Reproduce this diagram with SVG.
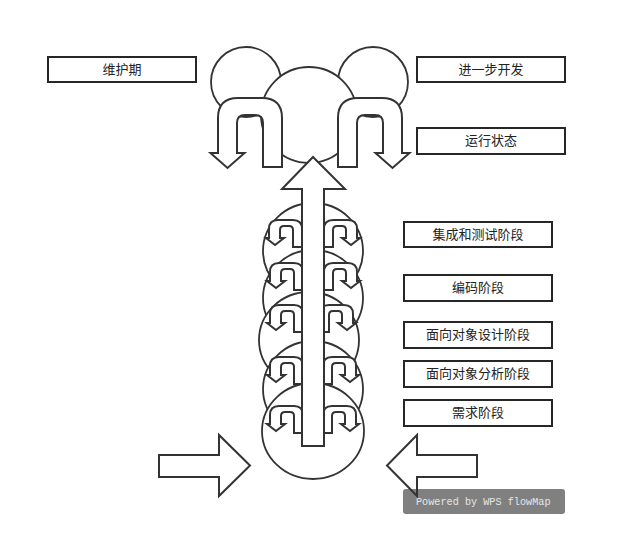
<svg xmlns="http://www.w3.org/2000/svg" width="627" height="558" viewBox="0 0 627 558">
<defs>
<style>
.sh{fill:#fff;stroke:#333;stroke-width:2;stroke-linejoin:miter}
.ci{fill:#fff;stroke:#333;stroke-width:1.8}
.bx{fill:#fff;stroke:#262626;stroke-width:2}
.lb{font-family:"Noto Sans CJK SC","Noto Sans",sans-serif;font-size:13px;fill:#222;text-anchor:middle}
.wm{font-family:"Liberation Mono",monospace;font-size:10.2px;fill:#e6e6e6}
</style>
<path id="bigU" d="M64 69V20Q64 0 44 0H20Q0 0 0 20V55H-7.5L9.5 70L26.5 55H19V25Q19 17 27 17H37Q45 17 45 25V69Z"/>
<path id="smU" d="M33 27V9Q33 0 24 0H9Q0 0 0 9V18H-3L6 25L15 18H11V10Q11 6 15 6H20Q24 6 24 10V27Z"/>
</defs>
<rect width="627" height="558" fill="#fff"/>

<g id="top-figure">
<circle class="ci" cx="246" cy="82" r="35"/>
<circle class="ci" cx="373" cy="82" r="35"/>
<ellipse class="ci" cx="309" cy="115" rx="48" ry="48"/>
<use href="#bigU" class="sh" transform="translate(218,98)"/>
<use href="#bigU" class="sh" transform="translate(402,98) scale(-1,1)"/>
</g>

<g id="stack">
<ellipse class="ci" cx="313" cy="251" rx="50" ry="48"/>
<ellipse class="ci" cx="313" cy="298" rx="50" ry="48"/>
<ellipse class="ci" cx="309" cy="340" rx="50" ry="48"/>
<ellipse class="ci" cx="313" cy="389" rx="50" ry="48"/>
<ellipse class="ci" cx="313" cy="431" rx="51" ry="48"/>
<use href="#smU" class="sh" transform="translate(269,220)"/>
<use href="#smU" class="sh" transform="translate(357,220) scale(-1,1)"/>
<use href="#smU" class="sh" transform="translate(270,263)"/>
<use href="#smU" class="sh" transform="translate(357,263) scale(-1,1)"/>
<use href="#smU" class="sh" transform="translate(270,305)"/>
<use href="#smU" class="sh" transform="translate(353,305) scale(-1,1)"/>
<use href="#smU" class="sh" transform="translate(270,357)"/>
<use href="#smU" class="sh" transform="translate(356,357) scale(-1,1)"/>
<use href="#smU" class="sh" transform="translate(270,406)"/>
<use href="#smU" class="sh" transform="translate(356,406) scale(-1,1)"/>
</g>

<g id="main-arrow">
<path class="sh" d="M313 157L345 189H324V446H302V189H282Z"/>
</g>

<g id="watermark">
<rect x="403" y="489" width="162" height="25" rx="3" fill="#808080"/>
<text class="wm" x="416" y="505">Powered by WPS flowMap</text>
</g>

<g id="side-arrows">
<path class="sh" style="fill:none" d="M159 455H219V435L250 465.5L219 496V477H159Z"/>
<path class="sh" style="fill:none" d="M477 455H417V435L387 465.5L417 496V477H477Z"/>
</g>

<g id="n-weihuqi"><rect class="bx" x="48" y="57" width="148" height="25"/><text class="lb" x="122" y="74">维护期</text></g>
<g id="n-jinyibu"><rect class="bx" x="417" y="57" width="148" height="25"/><text class="lb" x="491" y="74">进一步开发</text></g>
<g id="n-yunxing"><rect class="bx" x="417" y="128" width="148" height="26"/><text class="lb" x="491" y="145">运行状态</text></g>
<g id="n-jicheng"><rect class="bx" x="404" y="222" width="148" height="25"/><text class="lb" x="478" y="239">集成和测试阶段</text></g>
<g id="n-bianma"><rect class="bx" x="404" y="275" width="148" height="26"/><text class="lb" x="478" y="292">编码阶段</text></g>
<g id="n-sheji"><rect class="bx" x="404" y="322" width="148" height="26"/><text class="lb" x="478" y="339">面向对象设计阶段</text></g>
<g id="n-fenxi"><rect class="bx" x="404" y="361" width="148" height="26"/><text class="lb" x="478" y="378">面向对象分析阶段</text></g>
<g id="n-xuqiu"><rect class="bx" x="404" y="400" width="148" height="26"/><text class="lb" x="478" y="417">需求阶段</text></g>
</svg>
